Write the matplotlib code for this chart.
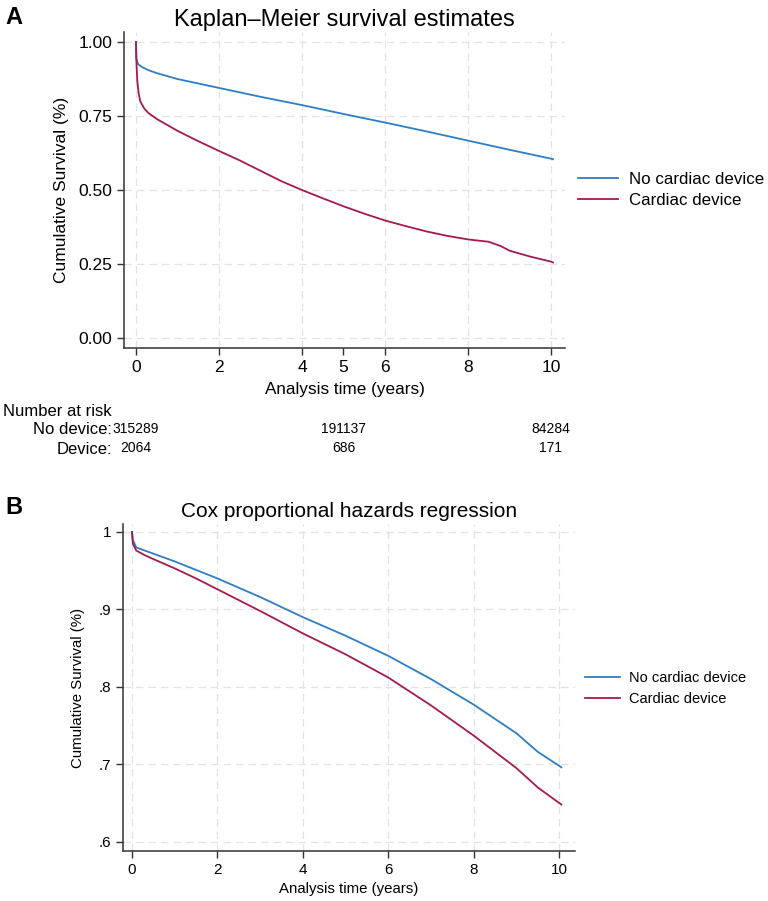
import matplotlib
matplotlib.use("Agg")
import matplotlib.pyplot as plt

plt.rcParams['font.family'] = ['Liberation Sans', 'DejaVu Sans']

# Panel A: Kaplan-Meier estimates
km_t_nodev = [0, 0.005, 0.05, 0.15, 0.3, 0.5, 1.0, 1.5, 2.0, 3.0, 4.0, 5.0, 6.0, 7.0, 8.0, 9.0, 10.0, 10.05]
km_s_nodev = [1.0, 0.945, 0.925, 0.915, 0.905, 0.895, 0.875, 0.86, 0.845, 0.815, 0.787, 0.757, 0.728, 0.698, 0.667, 0.636, 0.606, 0.604]
km_t_dev = [0, 0.01, 0.03, 0.06, 0.1, 0.2, 0.3, 0.5, 0.75, 1.0, 1.5, 2.0, 2.5, 3.0, 3.5, 4.0, 4.5, 5.0,
            5.5, 6.0, 6.5, 7.0, 7.5, 8.0, 8.5, 8.8, 9.0, 9.5, 10.0, 10.05]
km_s_dev = [1.0, 0.93, 0.87, 0.83, 0.80, 0.775, 0.76, 0.74, 0.72, 0.70, 0.665, 0.632, 0.60, 0.565, 0.53, 0.50,
            0.472, 0.445, 0.42, 0.397, 0.378, 0.36, 0.345, 0.333, 0.325, 0.31, 0.295, 0.275, 0.258, 0.255]

# number at risk table
risk_times = [0, 5, 10]
risk_nodev = ['315289', '191137', '84284']
risk_dev = ['2064', '686', '171']

# Panel B: Cox adjusted survival curves
cox_t = [0, 0.02, 0.1, 0.3, 0.5, 1.0, 1.5, 2.0, 3.0, 4.0, 5.0, 6.0, 7.0, 8.0, 9.0, 9.5, 10.0, 10.05]
cox_s_nodev = [1.0, 0.99, 0.98, 0.976, 0.972, 0.962, 0.951, 0.94, 0.916, 0.89, 0.866, 0.84, 0.81, 0.777, 0.74, 0.716, 0.698, 0.696]
cox_s_dev = [1.0, 0.985, 0.976, 0.97, 0.965, 0.953, 0.94, 0.926, 0.898, 0.869, 0.842, 0.812, 0.776, 0.737, 0.695, 0.67, 0.65, 0.648]

blue = '#2e7dc6'
red = '#a51a4d'
grid_kw = dict(color='#e3e3e3', linestyle=(0, (6, 4)), linewidth=0.9)

fig = plt.figure(figsize=(7.68, 9.01), dpi=100)


def style_axes(ax):
    for s in ['top', 'right']:
        ax.spines[s].set_visible(False)
    for s in ['left', 'bottom']:
        ax.spines[s].set_color('#333333')
        ax.spines[s].set_linewidth(1.1)
    ax.tick_params(which='both', direction='out', length=5, width=1, color='#333333')


# ---- panel A ----
ax1 = fig.add_axes([124 / 768, 1 - 348 / 901, 441 / 768, 316 / 901])
style_axes(ax1)
ax1.plot(km_t_nodev, km_s_nodev, color=blue, lw=1.3, label='No cardiac device')
ax1.plot(km_t_dev, km_s_dev, color=red, lw=1.3, label='Cardiac device')
ax1.set_xlim(-0.29, 10.34)
ax1.set_ylim(-0.034, 1.034)
ax1.set_xticks([0, 2, 4, 6, 8, 10])
ax1.set_xticks([5], minor=True)
ax1.set_xticklabels(['0', '2', '4', '6', '8', '10'], fontsize=12.5)
ax1.set_xticklabels(['5'], minor=True, fontsize=12.5)
ax1.set_yticks([0, 0.25, 0.5, 0.75, 1.0])
ax1.set_yticklabels(['0.00', '0.25', '0.50', '0.75', '1.00'], fontsize=12.5)
ax1.grid(True, which='major', **grid_kw)
ax1.set_axisbelow(True)
ax1.set_xlabel('Analysis time (years)', fontsize=12.3, labelpad=5)
ax1.set_ylabel('Cumulative Survival (%)', fontsize=12.5, labelpad=7)
ax1.set_title('Kaplan\u2013Meier survival estimates', fontsize=17, pad=4)
ax1.legend(loc='center left', bbox_to_anchor=(1.029, 0.50), frameon=False, fontsize=12.2,
           handlelength=2.4, handletextpad=0.6, labelspacing=0.35, borderpad=0, borderaxespad=0)

# risk table
fig.text(3 / 768, 1 - 412 / 901, 'Number at risk', fontsize=12, va='center', ha='left')
fig.text(112 / 768, 1 - 430 / 901, 'No device:', fontsize=12, va='center', ha='right')
fig.text(112 / 768, 1 - 449 / 901, 'Device:', fontsize=12, va='center', ha='right')
for t, n1, n2 in zip(risk_times, risk_nodev, risk_dev):
    xf = (136 + t * 41.5) / 768
    fig.text(xf, 1 - 429 / 901, n1, fontsize=10, va='center', ha='center')
    fig.text(xf, 1 - 448 / 901, n2, fontsize=10, va='center', ha='center')

fig.text(5 / 768, 1 - 18 / 901, 'A', fontsize=17, fontweight='bold', va='center')

# ---- panel B ----
ax2 = fig.add_axes([123 / 768, 1 - 851 / 901, 452 / 768, 327 / 901])
style_axes(ax2)
ax2.plot(cox_t, cox_s_nodev, color=blue, lw=1.3, label='No cardiac device')
ax2.plot(cox_t, cox_s_dev, color=red, lw=1.3, label='Cardiac device')
ax2.set_xlim(-0.21, 10.37)
ax2.set_ylim(0.588, 1.0103)
ax2.set_xticks([0, 2, 4, 6, 8, 10])
ax2.set_xticklabels(['0', '2', '4', '6', '8', '10'], fontsize=11)
ax2.set_yticks([0.6, 0.7, 0.8, 0.9, 1.0])
ax2.set_yticklabels(['.6', '.7', '.8', '.9', '1'], fontsize=11)
ax2.grid(True, which='major', **grid_kw)
ax2.set_axisbelow(True)
ax2.set_xlabel('Analysis time (years)', fontsize=10.8, labelpad=4)
ax2.set_ylabel('Cumulative Survival (%)', fontsize=10.8, labelpad=10)
ax2.set_title('Cox proportional hazards regression', fontsize=15, pad=5)
ax2.legend(loc='center left', bbox_to_anchor=(1.022, 0.497), frameon=False, fontsize=10.5,
           handlelength=2.4, handletextpad=0.6, labelspacing=0.45, borderpad=0, borderaxespad=0)

fig.text(5 / 768, 1 - 507 / 901, 'B', fontsize=17, fontweight='bold', va='center')

fig.savefig('out.png', dpi=100)
